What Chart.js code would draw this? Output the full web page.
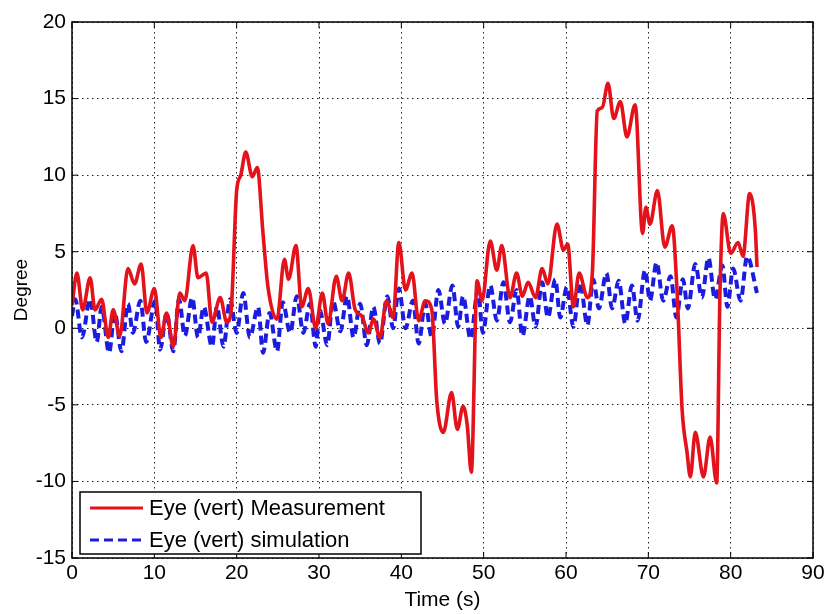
<!DOCTYPE html>
<html>
<head>
<meta charset="utf-8">
<script src="https://cdn.jsdelivr.net/npm/chart.js@4/dist/chart.umd.min.js"></script>
<style>
  html, body { margin: 0; padding: 0; background: #fff; }
  #wrap { width: 830px; height: 614px; }
</style>
</head>
<body>
<div id="wrap"><canvas id="chart" width="830" height="614"></canvas></div>
<script>
// measurement (red) - time / degree
const tRed = [0, 0.6, 1.3, 2.2, 2.8, 3.6, 4.4, 5.0, 5.8, 6.8, 7.6, 8.4, 9.1, 10.0, 10.8, 11.5, 12.3, 13.1, 13.7,
  14.7, 15.3, 16.3, 17.0, 18.0, 18.8, 19.3, 20.0, 20.5, 21.1, 21.9, 22.5, 23.2, 23.8, 24.9, 25.8, 26.3, 27.2,
  27.9, 28.7, 29.6, 30.4, 31.1, 32.1, 32.8, 33.6, 34.4, 35.2, 36.0, 36.6, 37.4, 38.2, 39.0, 39.7, 40.5, 41.3,
  42.1, 42.9, 43.7, 44.3, 45.1, 46.1, 46.8, 47.5, 48.0, 48.5, 49.2, 49.8, 50.8, 51.6, 52.2, 53.2, 54.0, 54.7,
  55.4, 56.3, 57.1, 57.8, 58.9, 59.7, 60.2, 60.9, 61.6, 62.6, 63.2, 63.8, 64.4, 65.1, 65.8, 66.6, 67.4, 68.4,
  69.3, 69.7, 70.2, 71.1, 72.0, 72.9, 73.5, 74.1, 74.7, 75.1, 75.7, 76.7, 77.5, 78.3, 78.7, 79.1, 80.0, 80.9,
  81.5, 82.3, 83.0, 83.2];
const yRed = [1.5, 3.6, 1.2, 3.3, 1.2, 1.9, -0.6, 1.2, -0.5, 3.9, 2.9, 4.2, 1.0, 2.6, -0.6, 1.0, -1.2, 2.3, 1.8,
  5.4, 3.3, 3.6, 0.4, 2.0, 0.4, 1.0, 9.0, 10.0, 11.5, 9.9, 10.5, 6.2, 2.7, 0.6, 4.5, 3.2, 5.4,
  1.4, 2.6, 0.0, 2.3, 0.3, 3.4, 1.8, 3.6, 1.2, 0.8, -0.3, 0.6, -0.6, 1.8, 0.7, 5.6, 2.5, 3.6,
  0.5, 1.8, 1.2, -4.7, -6.8, -4.2, -6.6, -5.1, -6.3, -9.4, 3.1, 1.8, 5.7, 3.8, 5.4, 2.0, 3.6, 2.1,
  3.0, 2.0, 3.9, 2.9, 6.8, 5.1, 5.5, 1.4, 3.6, 2.0, 3.6, 14.2, 14.4, 16.0, 13.7, 14.8, 12.5, 14.6,
  6.2, 7.9, 6.8, 9.0, 5.3, 6.7, 2.3, -5.3, -8.1, -9.7, -6.8, -9.7, -7.1, -10.1, 2.3, 7.5, 4.9, 5.6,
  4.7, 8.8, 6.4, 4.0];

// simulation (blue dashed) - time / degree
const tBlue = [0, 0.4, 1.2, 2.2, 3.0, 3.6, 4.5, 5.2, 6.0, 6.8, 7.4, 8.3, 9.0, 10.1, 10.7, 11.5, 12.3, 13.0, 13.7,
  14.6, 15.3, 16.0, 17.0, 17.6, 18.4, 19.2, 20.0, 20.8, 21.6, 22.6, 23.2, 24.0, 24.9, 25.6, 26.5, 27.3, 28.1,
  28.9, 29.6, 30.1, 31.0, 31.7, 32.6, 33.4, 34.2, 35.0, 35.8, 36.6, 37.4, 38.3, 39.0, 39.7, 40.5, 41.4, 42.1,
  42.9, 43.7, 44.5, 45.3, 46.2, 46.9, 47.5, 48.4, 49.3, 49.9, 50.8, 51.6, 52.4, 53.2, 54.0, 54.7, 55.6, 56.3,
  57.1, 57.8, 58.7, 59.3, 60.1, 60.9, 61.7, 62.6, 63.3, 64.0, 64.9, 65.6, 66.4, 67.2, 68.0, 68.7, 69.6, 70.2,
  71.0, 71.8, 72.7, 73.4, 74.2, 74.8, 75.7, 76.5, 77.3, 78.1, 79.0, 79.6, 80.3, 81.2, 82.0, 83.2];
const yBlue = [0.8, 1.9, -0.6, 1.9, -0.9, 1.4, -1.6, 1.0, -1.5, 1.6, -0.3, 1.8, -0.9, 1.8, -1.4, 1.0, -1.5, 1.9, -0.5,
  2.0, -0.6, 1.4, -1.2, 1.4, -1.2, 1.9, -0.3, 2.3, -0.6, 1.4, -1.6, 1.0, -1.5, 1.7, -0.3, 2.1, -0.3,
  1.6, -1.2, 1.2, -1.1, 1.8, -0.2, 2.1, -0.6, 1.6, -1.1, 1.4, -1.0, 2.1, 0.0, 2.6, 0.0, 1.8, -1.0,
  1.6, -0.6, 2.5, 0.3, 2.8, 0.1, 2.1, -0.7, 2.5, -0.3, 2.8, 0.5, 3.0, 0.4, 2.5, -0.5, 2.1, 0.1,
  3.0, 0.7, 3.2, 0.7, 2.7, 0.1, 3.0, 0.2, 3.2, 1.3, 3.6, 1.3, 3.1, 0.3, 2.8, 0.5, 3.8, 1.8,
  4.3, 1.8, 3.4, 0.7, 3.2, 1.3, 4.2, 2.0, 4.6, 1.9, 4.1, 1.4, 3.9, 1.8, 4.7, 2.3];

const seriesNames = ['Eye (vert) Measurement', 'Eye (vert) simulation'];
const xTicks = [0, 10, 20, 30, 40, 50, 60, 70, 80, 90];
const yTicks = [-15, -10, -5, 0, 5, 10, 15, 20];

const RED = '#e3121b';
const BLUE = '#1c1ce0';
const FONT = '"Liberation Sans", Arial, Helvetica, sans-serif';

function toPoints(xs, ys) {
  return xs.map((x, i) => ({x: x, y: ys[i]}));
}

// box around the plot, inward ticks and the legend box in the lower left
const frameAndLegend = {
  id: 'frameAndLegend',
  afterDraw(chart) {
    const ctx = chart.ctx;
    const a = chart.chartArea;
    const sx = chart.scales.x;
    const sy = chart.scales.y;
    ctx.save();
    ctx.strokeStyle = '#000';
    ctx.lineWidth = 1.5;
    ctx.strokeRect(a.left, a.top, a.right - a.left, a.bottom - a.top);

    ctx.lineWidth = 1;
    const tl = 6;
    ctx.beginPath();
    xTicks.forEach(v => {
      const px = sx.getPixelForValue(v);
      ctx.moveTo(px, a.bottom); ctx.lineTo(px, a.bottom - tl);
      ctx.moveTo(px, a.top); ctx.lineTo(px, a.top + tl);
    });
    yTicks.forEach(v => {
      const py = sy.getPixelForValue(v);
      ctx.moveTo(a.left, py); ctx.lineTo(a.left + tl, py);
      ctx.moveTo(a.right, py); ctx.lineTo(a.right - tl, py);
    });
    ctx.stroke();

    // legend
    const bx = a.left + 8, by = a.bottom - 66, bw = 341, bh = 62;
    ctx.fillStyle = '#fff';
    ctx.fillRect(bx, by, bw, bh);
    ctx.lineWidth = 1.5;
    ctx.strokeStyle = '#000';
    ctx.strokeRect(bx, by, bw, bh);

    ctx.font = '22px ' + FONT;
    ctx.textBaseline = 'middle';
    ctx.textAlign = 'left';
    chart.data.datasets.forEach((ds, i) => {
      const ly = by + 16 + i * 32;
      ctx.strokeStyle = ds.borderColor;
      ctx.lineWidth = 3;
      ctx.setLineDash(ds.label === seriesNames[1] ? [9, 5] : []);
      ctx.beginPath();
      ctx.moveTo(bx + 10, ly);
      ctx.lineTo(bx + 63, ly);
      ctx.stroke();
      ctx.setLineDash([]);
      ctx.fillStyle = '#000';
      ctx.fillText(ds.label, bx + 69, ly + 1);
    });
    ctx.restore();
  }
};

new Chart(document.getElementById('chart'), {
  type: 'line',
  data: {
    datasets: [
      {
        label: seriesNames[0],
        data: toPoints(tRed, yRed),
        borderColor: RED,
        borderWidth: 3.6,
        pointRadius: 0,
        cubicInterpolationMode: 'monotone',
        fill: false,
      },
      {
        label: seriesNames[1],
        data: toPoints(tBlue, yBlue),
        borderColor: BLUE,
        borderWidth: 4,
        borderDash: [9, 5],
        pointRadius: 0,
        cubicInterpolationMode: 'monotone',
        fill: false,
      },
    ],
  },
  options: {
    responsive: false,
    animation: false,
    events: [],
    layout: {padding: {top: 22, right: 17, left: 0, bottom: 0}},
    plugins: {
      legend: {display: false},
      tooltip: {enabled: false},
    },
    scales: {
      x: {
        type: 'linear',
        min: 0,
        max: 90,
        afterBuildTicks: s => { s.ticks = xTicks.map(v => ({value: v})); },
        afterFit: s => { s.height = 56; },
        ticks: {color: '#000', font: {family: FONT, size: 21}, padding: 3, maxRotation: 0},
        grid: {color: '#222', lineWidth: 1, drawTicks: false},
        border: {display: false, dash: [1.5, 3.5]},
        title: {display: true, text: 'Time (s)', color: '#000', font: {family: FONT, size: 21}, padding: {top: 0, bottom: 1}},
      },
      y: {
        min: -15,
        max: 20,
        afterBuildTicks: s => { s.ticks = yTicks.map(v => ({value: v})); },
        afterFit: s => { s.width = 72; },
        ticks: {color: '#000', font: {family: FONT, size: 21}, padding: 6},
        grid: {color: '#222', lineWidth: 1, drawTicks: false},
        border: {display: false, dash: [1.5, 3.5]},
        title: {display: true, text: 'Degree', color: '#000', font: {family: FONT, size: 19}, padding: {top: 10, bottom: 0}},
      },
    },
  },
  plugins: [frameAndLegend],
});
</script>
</body>
</html>
